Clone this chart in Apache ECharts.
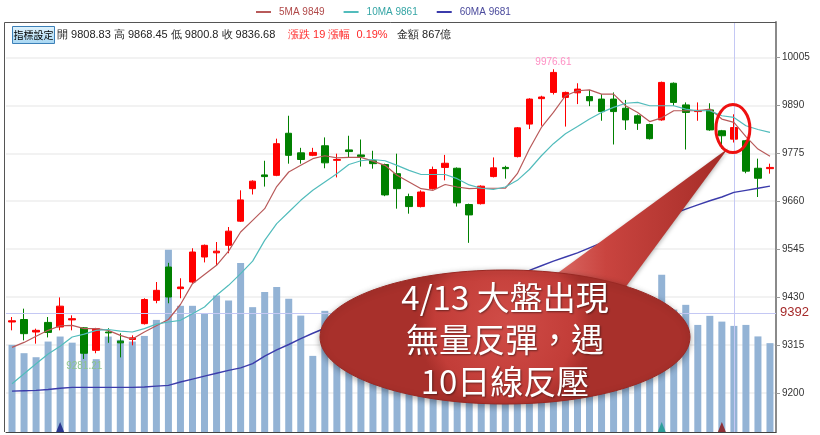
<!DOCTYPE html>
<html><head><meta charset="utf-8">
<script src="https://cdn.jsdelivr.net/npm/echarts@6/dist/echarts.min.js"></script>
<style>html,body{margin:0;padding:0;background:#fff}#c{width:820px;height:435px}</style>
</head><body><div id="c"></div>
<script>
// ---- data ----
const categories = ['1','2','3','4','5','6','7','8','9','10','11','12','13','14','15','16','17','18','19','20',
 '21','22','23','24','25','26','27','28','29','30','31','32','33','34','35','36','37','38','39','40',
 '41','42','43','44','45','46','47','48','49','50','51','52','53','54','55','56','57','58','59','60',
 '4/13','62','63','64'];
const openP = [9370,9376,9346,9369,9358,9375,9356,9302,9346,9324,9328,9366,9422,9502,9450,9466,9526,9536,9554,9612,
 9690,9723,9722,9823,9776,9770,9793,9758,9783,9771,9757,9748,9726,9671,9647,9690,9741,9739,9652,9654,
 9719,9741,9767,9845,9906,9921,9909,9920,9911,9905,9905,9883,9865,9844,9855,9943,9891,9875,9879,9829,
 9808.83,9805,9739,9738];
const closeP = [9373,9342,9350,9345,9408,9378,9295,9354,9344,9320,9332,9424,9446,9430,9454,9538,9554,9540,9588,9663,
 9708,9719,9798,9770,9760,9777,9752,9760,9779,9767,9750,9675,9690,9647,9682,9736,9751,9656,9627,9696,
 9740,9738,9836,9905,9910,9969,9921,9929,9901,9875,9875,9855,9847,9810,9945,9897,9873,9878,9831,9817,
 9836.68,9732,9715,9741];
const lowP = [9350,9326,9318,9333,9350,9350,9281.21,9295,9320,9285,9314,9364,9415,9415,9427,9462,9513,9506,9535,9610,
 9676,9695,9720,9750,9750,9768,9739,9717,9765,9743,9738,9672,9642,9630,9645,9688,9710,9647,9560,9652,
 9717,9714,9765,9833,9841,9916,9839,9893,9888,9853,9796,9831,9831,9808,9853,9889,9784,9853,9829,9786,
 9800.8,9727,9670,9726];
const highP = [9382,9402,9354,9382,9429,9386,9358,9356,9355,9343,9338,9427,9466,9512,9475,9547,9556,9562,9598,9686,
 9710,9757,9810,9865,9788,9788,9813,9774,9817,9808,9781,9750,9774,9678,9686,9743,9771,9741,9654,9698,
 9765,9745,9838,9907,9913,9976.61,9923,9943,9927,9917,9921,9903,9868,9846,9947,9945,9897,9897,9895,9831,
 9868.45,9807,9762,9750];
const volume = [712,644,611,739,780,730,753,595,780,753,739,785,916,1489,1031,1031,965,1115,1074,1380,
 1020,1143,1184,1088,951,622,990,940,870,900,820,960,910,850,800,880,830,920,980,870,
 900,780,1050,1150,1080,1120,1010,940,890,960,1030,900,850,920,1284,1000,1039,875,949,902,
 867,875,781,726];
const ma5 = [9309,9321,9336,9350,9361,9362,9354,9354,9350,9338,9329,9346,9361,9376,9412,9462,9484,9506,9540,9586,
 9614,9642,9695,9730,9746,9762,9769,9764,9765,9765,9756,9746,9722,9706,9690,9686,9700,9694,9690,9691,
 9691,9691,9726,9785,9837,9873,9913,9925,9927,9917,9917,9889,9873,9851,9860,9877,9877,9877,9881,9857,
 9849,9815,9785,9768];
const ma10 = [9222,9246,9270,9293,9312,9334,9341,9350,9352,9348,9346,9354,9365,9370,9374,9390,9406,9434,9458,9486,
 9516,9566,9606,9634,9662,9686,9706,9726,9748,9757,9760,9757,9746,9734,9724,9724,9724,9714,9699,9691,
 9688,9694,9710,9736,9769,9798,9822,9839,9857,9873,9885,9895,9897,9889,9889,9889,9881,9877,9877,9865,
 9861,9841,9832,9825];
const ma60 = [9204,9205,9206,9208,9211,9213,9213,9213,9213,9213,9213,9214,9216,9218,9226,9233,9240,9247,9254,9260,
 9270,9288,9303,9316,9330,9343,9355,9365,9374,9383,9391,9399,9407,9415,9423,9431,9438,9446,9453,9461,
 9469,9477,9485,9494,9505,9516,9526,9536,9548,9560,9572,9584,9595,9606,9618,9630,9641,9651,9661,9670,
 9681,9686,9691,9696];
const yTicks = [9200,9315,9430,9545,9660,9775,9890,10005];
const signalIdx = [4,54,59];
const signalColors = ['#101880','#179a8c','#8c1010'];
const crossIdx = 60;
const crossValue = 9392;
const changeText = '漲跌 19 漲幅  0.19%';
const calloutLines = ['4/13 大盤出現','無量反彈，遇','10日線反壓'];

// ---- chart ----
const chart = echarts.init(document.getElementById('c'));
const candleData = openP.map((o,i)=>[o, closeP[i], lowP[i], highP[i]]);
const maMap = {'5MA':ma5,'10MA':ma10,'60MA':ma60};
const FONT = 'Liberation Sans, Arial, sans-serif';
const CJK = '"Noto Sans CJK TC", "Noto Sans CJK SC", sans-serif';

chart.setOption({
  animation:false,
  backgroundColor:'#fff',
  legend:{
    left:251, top:2, icon:'rect', itemWidth:15, itemHeight:2, itemGap:19, selectedMode:false,
    textStyle:{fontSize:10, fontFamily:FONT, padding:[0,0,0,3]},
    formatter: n => n + ' ' + maMap[n][crossIdx],
    data:[{name:'5MA', textStyle:{color:'#b04848'}},{name:'10MA', textStyle:{color:'#35a5a5'}},{name:'60MA', textStyle:{color:'#4a4a9c'}}]
  },
  grid:{left:6, right:44, top:22, bottom:3},
  xAxis:{type:'category', data:categories, boundaryGap:true,
    axisLine:{show:true, lineStyle:{color:'#444'}}, axisTick:{show:false}, axisLabel:{show:false}, splitLine:{show:false}},
  yAxis:[
    {type:'value', position:'right', min:9106, max:10090, scale:true,
     axisLine:{show:true, lineStyle:{color:'#8a8a8a', width:2}},
     axisTick:{show:true, length:4, lineStyle:{color:'#999'}, customValues:yTicks},
     axisLabel:{customValues:yTicks, color:'#333', fontSize:10, fontFamily:FONT, margin:6, formatter:v=>String(v)},
     splitLine:{show:true, lineStyle:{color:'#eeeeee', width:1.5}}},
    {type:'value', min:0, max:3350, show:false, splitLine:{show:false}}
  ],
  series:[
    {type:'bar', name:'vol', yAxisIndex:1, data:volume, barWidth:7, itemStyle:{color:'#93b3d5'}, z:1, silent:true},
    {type:'scatter', name:'signal', yAxisIndex:1, symbol:'triangle', symbolSize:[8,10], symbolOffset:[0,-5], z:3, silent:true,
     data: signalIdx.map((k,j)=>({value:[k,0], itemStyle:{color:signalColors[j]}}))},
    {type:'candlestick', name:'K', data:candleData, barWidth:7, z:4,
     itemStyle:{color:'#ff0000', color0:'#008000', borderColor:'#ff0000', borderColor0:'#008000', borderWidth:1},
     markPoint:{symbol:'circle', symbolSize:0, silent:true, z:20, data:[
       {type:'max', valueDim:'highest', label:{show:true, position:'top', distance:2, color:'#ff8fc4', fontSize:10, fontFamily:FONT, formatter:p=>p.value}},
       {type:'min', valueDim:'lowest', label:{show:true, position:'bottom', distance:2, color:'#8cc48c', fontSize:10, fontFamily:FONT, formatter:p=>p.value}}
     ]},
     markLine:{symbol:'none', silent:true, animation:false,
       lineStyle:{color:'#c4c8f4', width:1, type:'solid'}, label:{show:false},
       data:[{xAxis:categories[crossIdx]},
             {yAxis:crossValue, label:{show:true, position:'end', distance:4, formatter:String(crossValue), color:'#a52a2a', fontSize:13, fontFamily:FONT}}]}
    },
    {type:'line', name:'5MA', data:ma5, symbol:'none', z:5, lineStyle:{width:1.2, color:'#b85a5a'}, itemStyle:{color:'#b85a5a'}},
    {type:'line', name:'10MA', data:ma10, symbol:'none', z:5, lineStyle:{width:1.2, color:'#52bcbc'}, itemStyle:{color:'#52bcbc'}},
    {type:'line', name:'60MA', data:ma60, symbol:'none', z:5, lineStyle:{width:1.4, color:'#3b3bab'}, itemStyle:{color:'#3b3bab'}}
  ]
});

// ---- annotations ----
const c = chart.convertToPixel({xAxisIndex:0, yAxisIndex:0}, [crossIdx, closeP[crossIdx]]);
const cx = c[0], cy = c[1];
const infoText = '開 ' + openP[crossIdx] + ' 高 ' + highP[crossIdx] + ' 低 ' + lowP[crossIdx] + ' 收 ' + closeP[crossIdx];
chart.setOption({graphic:[
  {type:'polyline', z:50, silent:true, shape:{points:[[4.5,432],[4.5,22.5],[776,22.5]]}, style:{stroke:'#555', lineWidth:1, fill:null}},
  {type:'rect', z:50, silent:true, shape:{x:12.5, y:26.5, width:42, height:17}, style:{
     fill:new echarts.graphic.LinearGradient(0,0,0,1,[{offset:0,color:'#e2f4fd'},{offset:1,color:'#a6d6f2'}]), stroke:'#3c80b8', lineWidth:1}},
  {type:'text', z:51, silent:true, style:{text:'指標設定', x:33.5, y:35.5, textAlign:'center', textVerticalAlign:'middle', fill:'#000', font:'10px '+CJK}},
  {type:'text', z:51, silent:true, style:{text:infoText, x:57, y:35, textVerticalAlign:'middle', fill:'#222', font:'11px '+FONT}},
  {type:'text', z:51, silent:true, style:{text:changeText, x:288, y:35, textVerticalAlign:'middle', fill:'#ff2a2a', font:'11px '+FONT}},
  {type:'text', z:51, silent:true, style:{text:'金額 ' + volume[crossIdx] + '億', x:397, y:35, textVerticalAlign:'middle', fill:'#222', font:'11px '+FONT}},
  // callout
  {type:'polygon', z:60, silent:true, shape:{points:[[cx-6, cy+21],[540,286],[622,292]]}, style:{
     fill:new echarts.graphic.LinearGradient(0,0,1,0,[{offset:0,color:'#e07570'},{offset:0.35,color:'#c9443f'},{offset:1,color:'#a52c27'}]),
     shadowBlur:4, shadowColor:'rgba(0,0,0,0.3)', shadowOffsetY:2}},
  {type:'ellipse', z:61, silent:true, shape:{cx:505, cy:337, rx:185, ry:67}, style:{
     fill:new echarts.graphic.RadialGradient(0.5,0.4,0.65,[{offset:0,color:'#d04c47'},{offset:0.8,color:'#c23d38'},{offset:1,color:'#a8302b'}]),
     stroke:'#9a2823', lineWidth:1, shadowBlur:6, shadowColor:'rgba(0,0,0,0.35)', shadowOffsetY:2}},
  {type:'text', z:62, silent:true, style:{text:calloutLines.join('\n'), x:505, y:339, textAlign:'center', textVerticalAlign:'middle',
     fill:'#fff', font:'33px '+CJK, lineHeight:42, textShadowColor:'rgba(0,0,0,0.45)', textShadowBlur:2, textShadowOffsetX:1, textShadowOffsetY:1}},
  {type:'ellipse', z:63, silent:true, shape:{cx:cx-1, cy:cy+1, rx:17, ry:24}, style:{fill:null, stroke:'#ee1111', lineWidth:3}}
]});
</script>
</body></html>
